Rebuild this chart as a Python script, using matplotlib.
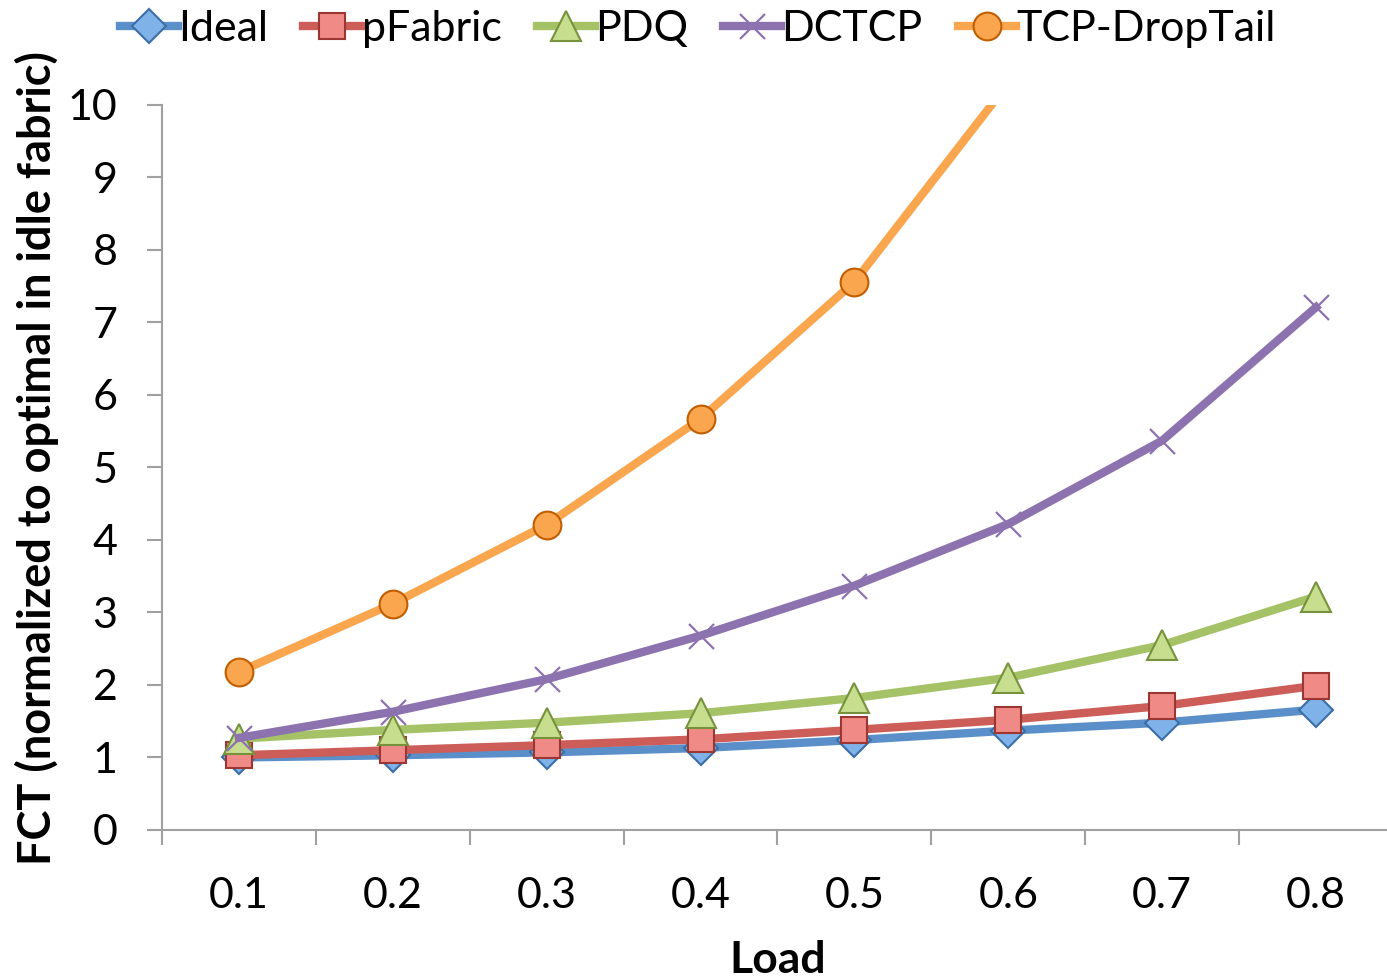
import numpy as np
import matplotlib
matplotlib.use('Agg')
import matplotlib.pyplot as plt

plt.rcParams['font.family'] = ['Lato', 'DejaVu Sans']

loads = ['0.1', '0.2', '0.3', '0.4', '0.5', '0.6', '0.7', '0.8']
ideal = [1.00, 1.03, 1.07, 1.13, 1.24, 1.37, 1.48, 1.66]
pfabric = [1.03, 1.10, 1.17, 1.25, 1.38, 1.52, 1.71, 1.99]
pdq = [1.26, 1.38, 1.48, 1.61, 1.82, 2.10, 2.55, 3.22]
dctcp = [1.27, 1.63, 2.08, 2.68, 3.37, 4.22, 5.37, 7.21]
tcp_droptail = [2.18, 3.12, 4.21, 5.67, 7.56, 10.3, np.nan, np.nan]

series = [
    ('Ideal', ideal, '#5B8FC9', 'D', '#7FB2E8', '#3A6EA5', 17),
    ('pFabric', pfabric, '#CD5D58', 's', '#F08A86', '#9B3632', 19),
    ('PDQ', pdq, '#A5C266', '^', '#C7DE8E', '#76923C', 21),
    ('DCTCP', dctcp, '#8D72B0', 'x', '#8D72B0', '#8D72B0', 18),
    ('TCP-DropTail', tcp_droptail, '#F9A64F', 'o', '#F9A64F', '#C25E00', 20),
]

fig = plt.figure(figsize=(13.87, 9.80), dpi=100)
ax = fig.add_axes([0.1168, 0.1531, 1.0043 - 0.1168, 0.8929 - 0.1531])

x = np.arange(1, len(loads) + 1)
for name, vals, color, marker, mfc, mec, ms in series:
    mew = 1.5 if marker != 'x' else 1.6
    ax.plot(x, vals, color=color, lw=6, marker=marker, ms=ms,
            mfc=mfc, mec=mec, mew=mew, label=name, solid_joinstyle='round')

ax.set_xlim(0.5, len(loads) + 0.5)
ax.set_ylim(0, 10)
ax.set_yticks(range(0, 11))
ax.set_xticks(x)
ax.set_xticklabels(loads)
ax.set_xticks(np.arange(0.5, len(loads) + 0.6, 1), minor=True)

for s in ['top', 'right']:
    ax.spines[s].set_visible(False)
for s in ['left', 'bottom']:
    ax.spines[s].set_color('#A0A0A0')
    ax.spines[s].set_linewidth(1.5)

ax.tick_params(axis='y', length=11, width=1.5, color='#A0A0A0', pad=21,
               labelsize=31)
ax.tick_params(axis='x', which='major', length=0, pad=34, labelsize=31)
ax.tick_params(axis='x', which='minor', length=11, width=1.5, color='#A0A0A0')

ax.set_xlabel('Load', fontsize=32, fontweight='bold', labelpad=18)
ax.set_ylabel('FCT (normalized to optimal in idle fabric)', fontsize=32.5,
              fontweight='bold')
ax.yaxis.set_label_coords(-0.084, 0.513)

fig.legend(loc='upper center', bbox_to_anchor=(0.503, 1.007), ncol=5,
           frameon=False, fontsize=31, handlelength=1.35, handletextpad=0.0,
           columnspacing=0.82, borderaxespad=0.0)

fig.savefig('out.png', dpi=100)
